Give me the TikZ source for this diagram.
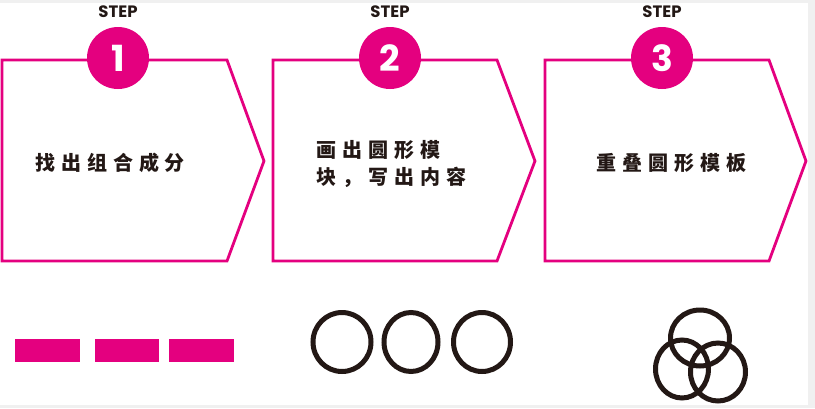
\documentclass[tikz,border=0pt]{standalone}
\usepackage{fontspec}
\newfontfamily\cjk[LetterSpace=30]{Noto Sans CJK SC}
\newfontfamily\pop{Poppins}
\definecolor{pinkc}{RGB}{228,0,127}
\definecolor{bggray}{RGB}{240,240,240}
\definecolor{inkc}{RGB}{35,24,21}
\begin{document}
\begin{tikzpicture}[x=1pt,y=-1pt,
  boxline/.style={draw=pinkc,line width=2.8pt,line join=miter},
  numcirc/.style={circle,fill=pinkc,minimum size=62pt,inner sep=0pt,text=white,font=\pop\bfseries\fontsize{36}{36}\selectfont},
  steplabel/.style={font=\pop\bfseries\fontsize{16.5}{16.5}\selectfont,inner sep=0pt,text=inkc},
  body/.style={font=\cjk\bfseries\fontsize{20}{27}\selectfont,align=left,inner sep=0pt,text=inkc},
  bar/.style={fill=pinkc},
  ring/.style={draw=inkc,line width=5pt}]
\useasboundingbox (0,0) rectangle (815,408);
\fill[bggray] (0,0) rectangle (815,408);
\fill[white] (0,3) rectangle (808,405);
% boxes
\draw[boxline] (2,60) -- (227,60) -- (264,161) -- (227,261) -- (2,261) -- cycle;
\draw[boxline] (273,60) -- (497,60) -- (535,161) -- (497,261) -- (273,261) -- cycle;
\draw[boxline] (545,60) -- (769,60) -- (806,161) -- (769,261) -- (545,261) -- cycle;
% step labels
\node[steplabel] (s1) at (118,12) {STEP};
\node[steplabel] (s2) at (390,12) {STEP};
\node[steplabel] (s3) at (662,12) {STEP};
% number circles
\node[numcirc] (n1) at (118,58) {1};
\node[numcirc] (n2) at (390,58) {2};
\node[numcirc] (n3) at (662,58) {3};
% texts
\node[body] (t1) at (110,163) {找出组合成分};
\node[body] (t2) at (391,164) {画出圆形模\\块，写出内容};
\node[body] (t3) at (671,163) {重叠圆形模板};
% bars
\fill[bar] (15,339) rectangle (80,362);
\fill[bar] (95,339) rectangle (159,362);
\fill[bar] (169,339) rectangle (234,362);
% rings
\draw[ring] (342,342) ellipse [x radius=29, y radius=29.5];
\draw[ring] (411,342) ellipse [x radius=27, y radius=29.5];
\draw[ring] (482,342) ellipse [x radius=28.5, y radius=29.5];
% venn
\draw[ring] (700,338) ellipse [x radius=29.5, y radius=28];
\draw[ring] (682,369) ellipse [x radius=26.5, y radius=29];
\draw[ring] (718,372) ellipse [x radius=27.5, y radius=29];
\end{tikzpicture}
\end{document}
